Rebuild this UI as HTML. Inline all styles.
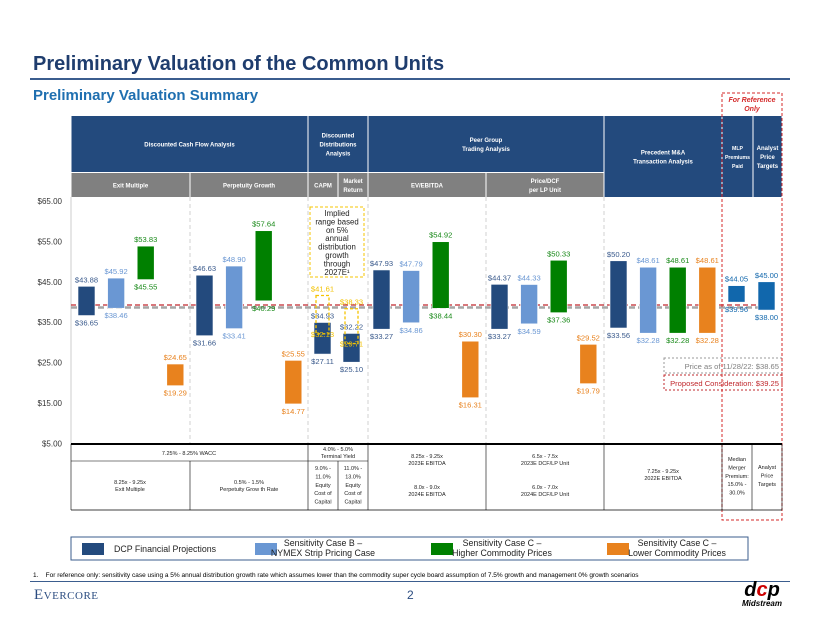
<!DOCTYPE html>
<html><head><meta charset="utf-8"><style>
body{margin:0;width:820px;height:634px;background:#fff;overflow:hidden;font-family:"Liberation Sans",sans-serif;position:relative}
.a{position:absolute}
</style></head><body>
<div class="a" style="left:33px;top:53px;font-size:20px;font-weight:bold;color:#1F3D6E">Preliminary Valuation of the Common Units</div>
<div class="a" style="left:30px;top:78px;width:760px;height:2px;background:#3B5D8E"></div>
<div class="a" style="left:33px;top:87px;font-size:15px;font-weight:bold;color:#1F6FB0">Preliminary Valuation Summary</div>
<svg class="a" style="left:0;top:0" width="820" height="634" id="chart"></svg>
<div class="a" style="left:33px;top:572px;font-size:6.5px;color:#000">1.&nbsp;&nbsp;&nbsp;&nbsp;For reference only: sensitivity case using a 5% annual distribution growth rate which assumes lower than the commodity super cycle board assumption of 7.5% growth and management 0% growth scenarios</div>
<div class="a" style="left:30px;top:581px;width:760px;height:1px;background:#3B5D8E"></div>
<div class="a" style="left:34px;top:587px;font-family:'Liberation Serif',serif;font-size:15px;color:#2B4C80;letter-spacing:0.5px">E<span style="font-size:11px">VERCORE</span></div>
<div class="a" style="left:407px;top:588px;font-size:12px;color:#2B4C80">2</div>
<div class="a" style="left:740px;top:580px;width:44px;text-align:center;line-height:1"><div style="font-size:20px;font-weight:bold;font-style:italic;color:#000">d<span style="color:#C00">c</span>p</div><div style="font-size:8px;font-weight:bold;font-style:italic">Midstream</div></div>
<script>
const cats=['Exit Multiple','Perpetuity Growth','CAPM','Market Return','EV/EBITDA','Price/DCF','Precedent M&A','MLP Premiums','Analyst Targets'];
const dcpLow=[36.65,31.66,27.11,25.10,33.27,33.27,33.56,39.96,38.00];
const dcpHigh=[43.88,46.63,34.93,32.22,47.93,44.37,50.20,44.05,45.00];
const bLow=[38.46,33.41,null,null,34.86,34.59,32.28,null,null];
const bHigh=[45.92,48.90,null,null,47.79,44.33,48.61,null,null];
const hiLow=[45.55,40.29,null,null,38.44,37.36,32.28,null,null];
const hiHigh=[53.83,57.64,null,null,54.92,50.33,48.61,null,null];
const loLow=[19.29,14.77,null,null,16.31,19.79,32.28,null,null];
const loHigh=[24.65,25.55,null,null,30.30,29.52,48.61,null,null];
const impLow=[null,null,32.13,29.71,null,null,null,null,null];
const impHigh=[null,null,41.61,38.33,null,null,null,null,null];
const yTicks=[65,55,45,35,25,15,5];
const currentPrice=38.65, proposed=39.25;

const svg=document.getElementById('chart');
const NS='http://www.w3.org/2000/svg';
function el(t,a,p){const e=document.createElementNS(NS,t);for(const k in a)e.setAttribute(k,a[k]);(p||svg).appendChild(e);return e;}
function tx(x,y,s,a,p){const e=el('text',Object.assign({x:x,y:y,'font-family':'Liberation Sans, sans-serif'},a),p);e.textContent=s;return e;}
const y=v=>201+(65-v)*4.04;
const X0=71;
const gStart=[78,196,314,343,373,491,610,728,758];
const step=29.6,bw=17,LFS=7.6;
const blue='#234A7D',gray='#808080';
function hdr(x1,x2,y1,y2,fill,lines,name,fs){
 const g=el('g',{});
 
 
 el('rect',{x:x1+0.5,y:y1,width:x2-x1-1,height:y2-y1,fill:fill},g);
 const cy=(y1+y2)/2-(lines.length-1)*4.5+2.5;
 lines.forEach((l,i)=>tx((x1+x2)/2,cy+i*9,l,{'font-size':fs||6,'font-weight':'bold',fill:'#fff','text-anchor':'middle'},g));
}
hdr(71,308,116,172,blue,['Discounted Cash Flow Analysis'],'header-dcf');
hdr(308,368,116,172,blue,['Discounted','Distributions','Analysis'],'header-dda');
hdr(368,604,116,172,blue,['Peer Group','Trading Analysis'],'header-peer');
hdr(604,722,116,197,blue,['Precedent M&A','Transaction Analysis'],'header-precedent');
hdr(722,753,116,197,blue,['MLP','Premiums','Paid'],'header-mlp',5.2);
hdr(753,782,116,197,blue,['Analyst','Price','Targets'],'header-analyst');
hdr(71,190,173,197,gray,['Exit Multiple'],'subheader-exit');
hdr(190,308,173,197,gray,['Perpetuity Growth'],'subheader-perp');
hdr(308,338,173,197,gray,['CAPM'],'subheader-capm');
hdr(338,368,173,197,gray,['Market','Return'],'subheader-market');
hdr(368,486,173,197,gray,['EV/EBITDA'],'subheader-ev');
hdr(486,604,173,197,gray,['Price/DCF','per LP Unit'],'subheader-pdcf');
const ax=el('line',{x1:X0,y1:197,x2:X0,y2:444,stroke:'#ccc','stroke-width':1});

yTicks.forEach(v=>{const t=tx(62,y(v)+3,'$'+v.toFixed(2),{'font-size':8,fill:'#333','text-anchor':'end'});
 });
[190,308,368,486,604].forEach(x=>{const l=el('line',{x1:x,y1:197,x2:x,y2:444,stroke:'#d0d0d0','stroke-dasharray':'4,3'});
 });
const gl=el('line',{x1:X0,y1:y(currentPrice),x2:767,y2:y(currentPrice),stroke:'#A6A6A6','stroke-width':2.5,'stroke-dasharray':'6,3'});

const rl=el('line',{x1:X0,y1:y(proposed),x2:767,y2:y(proposed),stroke:'#C0282D','stroke-width':1.3,'stroke-dasharray':'5,3'});

const series=[
 {lo:dcpLow,hi:dcpHigh,c:blue,lc:'#3A5A8C',n:'dcp',o:0},
 {lo:bLow,hi:bHigh,c:'#6A97D3',lc:'#6A97D3',n:'case-b',o:1},
 {lo:hiLow,hi:hiHigh,c:'#008000',lc:'#1A8A1A',n:'case-c-high',o:2},
 {lo:loLow,hi:loHigh,c:'#E8821E',lc:'#E8821E',n:'case-c-low',o:3}];
series.forEach(s=>{
 s.lo.forEach((lo,i)=>{
  const hi=s.hi[i]; if(lo==null)return;
  const x=gStart[i]+s.o*step; const c=(i>=7)?'#1167AC':s.c;
  const r=el('rect',{x:x,y:y(hi),width:bw,height:y(lo)-y(hi),fill:c,stroke:'#fff','stroke-width':0.6});
  
  const lc=(i>=7)?'#1167AC':s.lc;
  const t1=tx(x+bw/2,y(hi)-4,'$'+hi.toFixed(2),{'font-size':LFS,fill:lc,'text-anchor':'middle'});
  
  const t2=tx(x+bw/2,y(lo)+10,'$'+lo.toFixed(2),{'font-size':LFS,fill:lc,'text-anchor':'middle'});
  
 });
});
impLow.forEach((lo,i)=>{
 if(lo==null)return; const hi=impHigh[i]; const x=gStart[i]+2;
 const r=el('rect',{x:x,y:y(hi),width:bw-4,height:y(lo)-y(hi),fill:'none',stroke:'#F5C400','stroke-width':1.3,'stroke-dasharray':'3,2'});
 
 const t1=tx(x+bw/2-2,y(hi)-4,'$'+hi.toFixed(2),{'font-size':LFS,fill:'#F2C200','text-anchor':'middle'});
 
 const t2=tx(x+bw/2-2,y(lo)+3,'$'+lo.toFixed(2),{'font-size':LFS,fill:'#F2C200','text-anchor':'middle'});
 
});
const nb=el('rect',{x:310,y:207,width:54,height:70,fill:'none',stroke:'#F5C400','stroke-dasharray':'3,2'});

['Implied','range based','on 5%','annual','distribution','growth','through','2027E¹'].forEach((l,i)=>{
 const t=tx(337,216+i*8.4,l,{'font-size':7.8,fill:'#222','text-anchor':'middle'});
 });
const pb=el('rect',{x:664,y:358,width:118,height:15,fill:'none',stroke:'#999','stroke-dasharray':'2,2'});

const pt=tx(779,369,'Price as of 11/28/22:  $38.65',{'font-size':7.6,fill:'#808080','text-anchor':'end'});

const cb=el('rect',{x:664,y:375,width:118,height:15,fill:'none',stroke:'#C0282D','stroke-dasharray':'2,2'});

const ct=tx(779,386,'Proposed  Consideration:  $39.25',{'font-size':7.6,fill:'#C0282D','text-anchor':'end'});

const fr=el('rect',{x:722,y:93,width:60,height:427,fill:'none',stroke:'#D42A2A','stroke-width':1,'stroke-dasharray':'3,2'});

const f1=tx(752,102,'For Reference',{'font-size':7,'font-weight':'bold','font-style':'italic',fill:'#D42A2A','text-anchor':'middle'});

const f2=tx(752,111,'Only',{'font-size':7,'font-weight':'bold','font-style':'italic',fill:'#D42A2A','text-anchor':'middle'});

const tb=el('g',{});
el('line',{x1:71,y1:444,x2:782,y2:444,stroke:'#000','stroke-width':2},tb);
el('line',{x1:71,y1:510,x2:782,y2:510,stroke:'#000','stroke-width':0.8},tb);
[71,190,308,338,368,486,604,722,752,782].forEach(x=>{
 const top=(x==190||x==338)?461:444; el('line',{x1:x,y1:top,x2:x,y2:510,stroke:'#000','stroke-width':0.6},tb);});
el('line',{x1:71,y1:461,x2:368,y2:461,stroke:'#000','stroke-width':0.6},tb);
function tt(x,yy,lines,lh){lines.forEach((l,i)=>tx(x,yy+i*(lh||7),l,{'font-size':5.5,fill:'#222','text-anchor':'middle'},tb));}
tt(189,455,['7.25% - 8.25% WACC']);
tt(338,451,['4.0% - 5.0%','Terminal Yield']);
tt(130,484,['8.25x - 9.25x','Exit Multiple']);
tt(249,484,['0.5% - 1.5%','Perpetuity Grow th Rate']);
tt(323,470,['9.0% -','11.0%','Equity','Cost of','Capital'],8.4);
tt(353,470,['11.0% -','13.0%','Equity','Cost of','Capital'],8.4);
tt(427,458,['8.25x - 9.25x','2023E EBITDA']);tt(427,489,['8.0x - 9.0x','2024E EBITDA']);
tt(545,458,['6.5x - 7.5x','2023E DCF/LP Unit']);tt(545,489,['6.0x - 7.0x','2024E DCF/LP Unit']);
tt(663,473,['7.25x - 9.25x','2022E EBITDA']);
tt(737,461,['Median','Merger','Premium:','15.0% -','30.0%'],8.4);
tt(767,469,['Analyst','Price','Targets'],8.4);
const lg=el('g',{});
el('rect',{x:71,y:537,width:677,height:23,fill:'#fff',stroke:'#3B5D8E','stroke-width':1},lg);
const legSw=[blue,'#6A97D3','#008000','#E8821E'];
const legX=[82,255,431,607];
const legTxt=[['DCP Financial Projections'],['Sensitivity Case B –','NYMEX Strip Pricing Case'],['Sensitivity Case C –','Higher Commodity Prices'],['Sensitivity Case C –','Lower Commodity Prices']];
const legTX=[165,323,502,677];
legSw.forEach((c,i)=>{
 const e=el('g',{},lg);
 el('rect',{x:legX[i],y:543,width:22,height:12,fill:c},e);
 const L=legTxt[i];
 L.forEach((s,j)=>tx(legTX[i],L.length==1?552:546+j*10,s,{'font-size':8.8,fill:'#222','text-anchor':'middle'},e));
});
</script>
</body></html>
